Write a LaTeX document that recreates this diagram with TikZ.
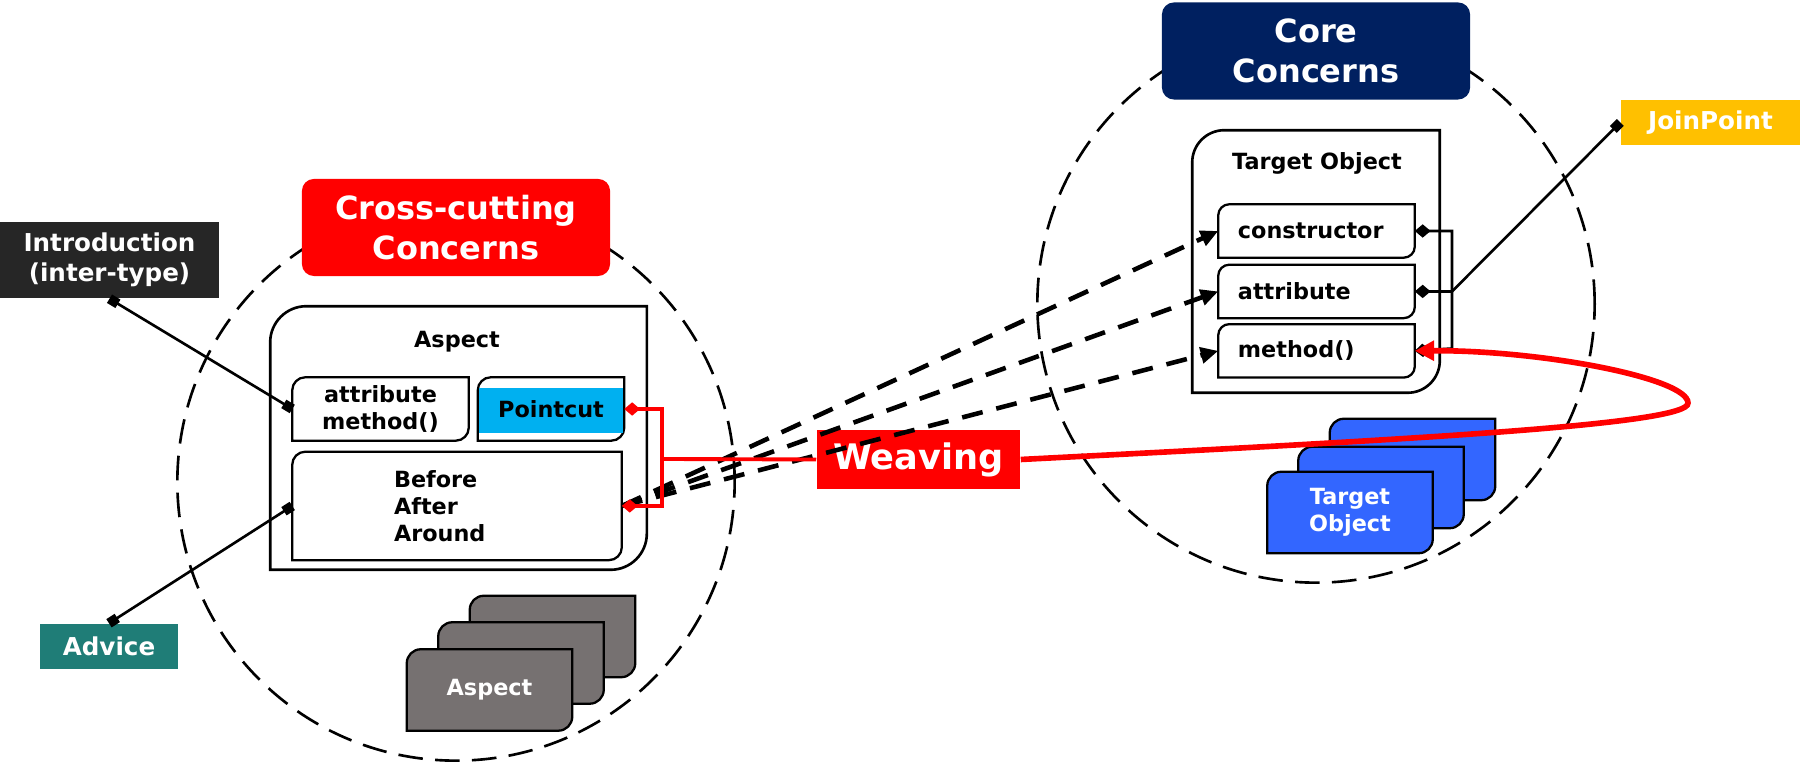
\documentclass[tikz,border=0pt]{standalone}
\usepackage{fontspec}
\setmainfont{DejaVu Sans}
\usetikzlibrary{positioning,arrows.meta,backgrounds}

\definecolor{crossred}{RGB}{255,0,0}
\definecolor{corenavy}{RGB}{0,32,96}
\definecolor{introgray}{RGB}{38,38,38}
\definecolor{adviceteal}{RGB}{31,125,119}
\definecolor{joinyellow}{RGB}{255,192,0}
\definecolor{cutblue}{RGB}{0,176,240}
\definecolor{targetblue}{RGB}{51,102,255}
\definecolor{aspectgray}{RGB}{118,113,113}

\newcommand{\headfont}{\fontsize{9.1}{11.3}\selectfont\bfseries}
\newcommand{\tagfont}{\fontsize{7}{8.5}\selectfont\bfseries}
\newcommand{\itemfont}{\fontsize{6.35}{7.7}\selectfont\bfseries}
\newcommand{\weavefont}{\fontsize{10}{12}\selectfont\bfseries}

% outline with round top-left and bottom-right corners
\newcommand{\diagframe}[3]{%
  \path[#1] ([yshift=-#3]#2.north west) .. controls ([yshift=-0.45*#3]#2.north west) and ([xshift=0.45*#3]#2.north west) .. ([xshift=#3]#2.north west)
    -- (#2.north east) -- ([yshift=#3]#2.south east) .. controls ([yshift=0.45*#3]#2.south east) and ([xshift=-0.45*#3]#2.south east) .. ([xshift=-#3]#2.south east)
    -- (#2.south west) -- cycle;}

\tikzset{
  zone/.style = {circle, draw, line width=0.75pt, dash pattern=on 7pt off 3.5pt, minimum size=5.57cm, inner sep=0},
  headbox/.style = {rounded corners=0.12cm, text=white, font=\headfont, align=center, minimum width=3.08cm, minimum height=0.97cm, inner sep=0},
  tagbox/.style = {text=white, font=\tagfont, align=center, inner sep=0},
  frame/.style = {inner sep=0},
  member/.style = {inner sep=0, font=\itemfont, align=center},
  slot/.style = {member, align=left, minimum width=1.95cm, minimum height=0.52cm, text width=1.57cm, inner xsep=0.19cm},
  card/.style = {inner sep=0, minimum width=1.64cm, minimum height=0.8cm, text=white, font=\itemfont, align=center},
  outer/.style = {draw, fill=white, line width=0.75pt},
  inner/.style = {draw, fill=white, line width=0.65pt},
  conn/.style = {draw, line width=0.75pt},
  weave/.style = {draw=crossred, line width=1.1pt},
  dashlink/.style = {draw, line width=1.3pt, dash pattern=on 6pt off 4pt, -{Triangle[length=5pt,width=4.5pt]}},
  sqtip/.tip = {Square[length=2.8pt,width=2.8pt]},
  dmtip/.tip = {Diamond[length=4.5pt,width=3.8pt]}
}

\begin{document}
\begin{tikzpicture}[x=0.01cm, y=-0.01cm]
\useasboundingbox (0,0) rectangle (1800,762);

% headings ===============================
\node[headbox, fill=crossred] (crosscut) at (456,227.5) {Cross-cutting\\Concerns};
\node[headbox, fill=corenavy] (core) at (1316,51) {Core\\Concerns};

% tags
\node[tagbox, fill=introgray, minimum width=2.19cm, minimum height=0.76cm] (intro) at (109.5,260) {Introduction\\(inter-type)};
\node[tagbox, fill=adviceteal, minimum width=1.38cm, minimum height=0.45cm] (advice) at (109,646.5) {Advice};
\node[tagbox, fill=joinyellow, minimum width=1.79cm, minimum height=0.45cm] (joinpoint) at (1710.5,122.5) {JoinPoint};
\node[tagbox, fill=crossred, font=\weavefont, minimum width=2.03cm, minimum height=0.59cm] (weaving) at (918.5,459.5) {Weaving};

% aspect side
\node[frame, minimum width=3.75cm, minimum height=2.62cm] (aspect) at (458.5,438) {};
\node[member] (aspecttitle) at (457,342) {Aspect};
\node[member, minimum width=1.75cm, minimum height=0.62cm] (attrmeth) at (380.5,409) {attribute\\method()};
\node[member, minimum width=1.45cm, minimum height=0.62cm, right=0.09cm of attrmeth] (pointcut) {Pointcut};
\node[member, minimum width=3.28cm, minimum height=1.07cm, anchor=north west] (advbody) at ([yshift=-0.11cm]attrmeth.south west) {};
\node[member, align=left, anchor=west] (advkinds) at ([xshift=1.01cm]advbody.west) {Before\\After\\Around};

\node[card] (aspectcard) at (489.5,690) {Aspect};
\node[card] (aspectcard2) at ([shift={(31.5,-27)}]aspectcard) {};
\node[card] (aspectcard3) at ([shift={(31.5,-26.5)}]aspectcard2) {};

% core side
\node[frame, minimum width=2.46cm, minimum height=2.61cm] (target) at (1316,261.5) {};
\node[member] (targettitle) at (1317,163) {Target Object};
\node[slot] (ctor) at (1316.5,231) {constructor};
\node[slot, below=0.07cm of ctor] (attr) {attribute};
\node[slot, below=0.06cm of attr] (meth) {method()};

\node[card] (targetcard) at (1350,512.5) {Target\\Object};
\node[card] (targetcard2) at ([shift={(31,-25)}]targetcard) {};
\node[card] (targetcard3) at ([shift={(31.5,-28)}]targetcard2) {};

% shapes behind =========================
\begin{scope}[on background layer]
\node[zone] (crosszone) at (456,482) {};
\node[zone] (corezone) at (1316,304) {};

\diagframe{outer}{aspect}{0.36cm}
\diagframe{inner}{attrmeth}{0.13cm}
\diagframe{inner}{pointcut}{0.13cm}
\fill[cutblue] ([shift={(1,11)}]pointcut.north west) rectangle ([shift={(-1,-8)}]pointcut.south east);
\diagframe{inner}{advbody}{0.13cm}

\diagframe{outer}{target}{0.32cm}
\diagframe{inner}{ctor}{0.11cm}
\diagframe{inner}{attr}{0.11cm}
\diagframe{inner}{meth}{0.11cm}

\diagframe{inner, fill=aspectgray}{aspectcard3}{0.14cm}
\diagframe{inner, fill=aspectgray}{aspectcard2}{0.14cm}
\diagframe{inner, fill=aspectgray}{aspectcard}{0.14cm}
\diagframe{inner, fill=targetblue}{targetcard3}{0.14cm}
\diagframe{inner, fill=targetblue}{targetcard2}{0.14cm}
\diagframe{inner, fill=targetblue}{targetcard}{0.14cm}
\end{scope}

% edges ==================================
\path[conn, sqtip-sqtip] (intro.south) -- (attrmeth.west);
\path[conn, sqtip-sqtip] (advice.north) -- (advbody.west);

\path[dashlink] (advbody.east) -- (ctor.west);
\path[dashlink] (advbody.east) -- (attr.west);
\path[dashlink] (advbody.east) -- (meth.west);

\coordinate (bus) at (1452,348.5);
\path[conn, dmtip-dmtip] (ctor.east) -| (bus) -- (meth.east);
\path[conn, dmtip-] (attr.east) -- (attr.east -| bus) coordinate (jbranch);
\path[conn, -sqtip] (jbranch) -- (joinpoint.west);

\path[weave, dmtip-dmtip] (pointcut.east) -- ++(38,0) |- (advbody.east);
\coordinate (splice) at (660,459);
\path[weave] (splice) -- (weaving.west);
\coordinate (turn) at (1688,403);
\path[weave, line width=1.6pt, -{Triangle[length=5.5pt,width=5.5pt]}] (weaving.east) .. controls (1400,440) and (1690,425) .. (turn)
  .. controls (1688,378) and (1540,350) .. (meth.east);

\end{tikzpicture}
\end{document}
